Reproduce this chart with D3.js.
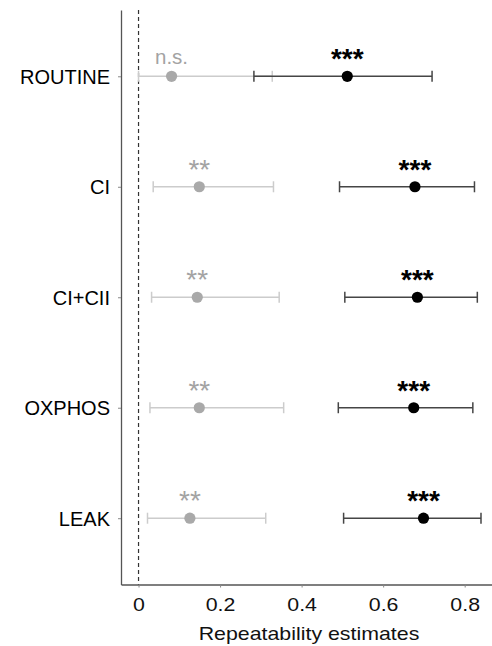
<!DOCTYPE html>
<html>
<head>
<meta charset="utf-8">
<script src="https://cdn.jsdelivr.net/npm/d3@7"></script>
<style>
  body { margin: 0; background: #fff; }
  svg { font-family: "Liberation Sans", Arial, sans-serif; }
</style>
</head>
<body>
<svg class="chart"></svg>
<script>
var width = 492;
var height = 646;

var traits = ['ROUTINE', 'CI', 'CI+CII', 'OXPHOS', 'LEAK'];

// grey series (first estimate)
var greyEst = [0.081, 0.149, 0.144, 0.149, 0.126];
var greyLow = [0.0, 0.036, 0.032, 0.028, 0.022];
var greyHigh = [0.328, 0.331, 0.345, 0.356, 0.312];
var greySig = ['n.s.', '**', '**', '**', '**'];

// black series (second estimate)
var blackEst = [0.512, 0.678, 0.684, 0.675, 0.699];
var blackLow = [0.283, 0.493, 0.506, 0.490, 0.503];
var blackHigh = [0.720, 0.824, 0.831, 0.820, 0.840];
var blackSig = ['***', '***', '***', '***', '***'];

var xTicks = [0, 0.2, 0.4, 0.6, 0.8];

var chart = d3.select(".chart")
    .attr("width", width)
    .attr("height", height);

var margin = {'top': 10, 'right': 0, 'bottom': 61.5, 'left': 121};

var x = d3.scaleLinear()
  .domain([-0.043, 0.867])
  .range([margin.left, width - margin.right]);

var y = d3.scalePoint()
  .domain(traits)
  .range([margin.top, height - margin.bottom])
  .padding(0.6);

var stretch = 'scale(1.22,1)';

// x axis
var x_axis = d3.axisBottom(x)
  .tickValues(xTicks)
  .tickFormat(function(d){ return d === 0 ? '0' : d3.format('.1f')(d); })
  .tickSize(3)
  .tickSizeOuter(0)
  .tickPadding(11.5);

var gx = chart.append('g')
  .attr('transform', 'translate(0,' + (height - margin.bottom) + ')')
  .call(x_axis);
gx.select('.domain').attr('stroke', '#555').attr('stroke-width', 1.3);
gx.selectAll('.tick line').attr('stroke', '#888');
gx.selectAll('.tick text')
  .attr('font-size', 17.5)
  .attr('fill', '#111')
  .attr('transform', stretch);

chart.append('text')
  .attr('transform', 'translate(' + 309 + ',640) ' + stretch)
  .attr('text-anchor', 'middle')
  .attr('font-size', 17.5)
  .attr('fill', '#111')
  .text('Repeatability estimates');

// y axis
var y_axis = d3.axisLeft(y)
  .tickSize(3)
  .tickSizeOuter(0)
  .tickPadding(8);

var gy = chart.append('g')
  .attr('transform', 'translate(' + margin.left + ',0)')
  .call(y_axis);
gy.select('.domain').attr('stroke', '#555').attr('stroke-width', 1.3);
gy.selectAll('.tick line').attr('stroke', '#888');
gy.selectAll('.tick text')
  .attr('font-size', 20)
  .attr('fill', '#000')
  .attr('dy', '0.36em');

// reference line at zero
chart.append('line')
  .attr('x1', x(0)).attr('x2', x(0))
  .attr('y1', margin.top).attr('y2', height - margin.bottom)
  .attr('stroke', '#333')
  .attr('stroke-width', 1.2)
  .attr('stroke-dasharray', '4,3');

var series = [
  {'est': greyEst, 'low': greyLow, 'high': greyHigh, 'sig': greySig,
   'bar': '#cccccc', 'dot': '#a9a9a9', 'text': '#a3a3a3', 'weight': 'normal'},
  {'est': blackEst, 'low': blackLow, 'high': blackHigh, 'sig': blackSig,
   'bar': '#454545', 'dot': '#000000', 'text': '#000000', 'weight': 'bold'}
];

var capH = 5.5;

series.forEach(function(s){
  var rows = traits.map(function(t, i){
    return {'trait': t, 'est': s.est[i], 'low': s.low[i], 'high': s.high[i], 'sig': s.sig[i]};
  });

  var g = chart.append('g');

  // whisker
  g.selectAll('line.whisker')
    .data(rows)
    .join('line')
      .attr('class', 'whisker')
      .attr('x1', function(d){ return x(d.low); })
      .attr('x2', function(d){ return x(d.high); })
      .attr('y1', function(d){ return y(d.trait); })
      .attr('y2', function(d){ return y(d.trait); })
      .attr('stroke', s.bar)
      .attr('stroke-width', 1.5);

  // caps
  ['low', 'high'].forEach(function(k){
    g.selectAll('line.cap-' + k)
      .data(rows)
      .join('line')
        .attr('class', 'cap-' + k)
        .attr('x1', function(d){ return x(d[k]); })
        .attr('x2', function(d){ return x(d[k]); })
        .attr('y1', function(d){ return y(d.trait) - capH; })
        .attr('y2', function(d){ return y(d.trait) + capH; })
        .attr('stroke', s.bar)
        .attr('stroke-width', 1.5);
  });

  g.selectAll('circle')
    .data(rows)
    .join('circle')
      .attr('cx', function(d){ return x(d.est); })
      .attr('cy', function(d){ return y(d.trait); })
      .attr('r', 5.6)
      .attr('fill', s.dot);

  g.selectAll('text')
    .data(rows)
    .join('text')
      .attr('x', function(d){ return x(d.est); })
      .attr('y', function(d){ return d.sig === 'n.s.' ? y(d.trait) - 12.5 : y(d.trait) - 8; })
      .attr('text-anchor', 'middle')
      .attr('font-size', function(d){ return d.sig === 'n.s.' ? 20.5 : 28; })
      .attr('font-weight', s.weight)
      .attr('fill', s.text)
      .text(function(d){ return d.sig; });
});
</script>
</body>
</html>
